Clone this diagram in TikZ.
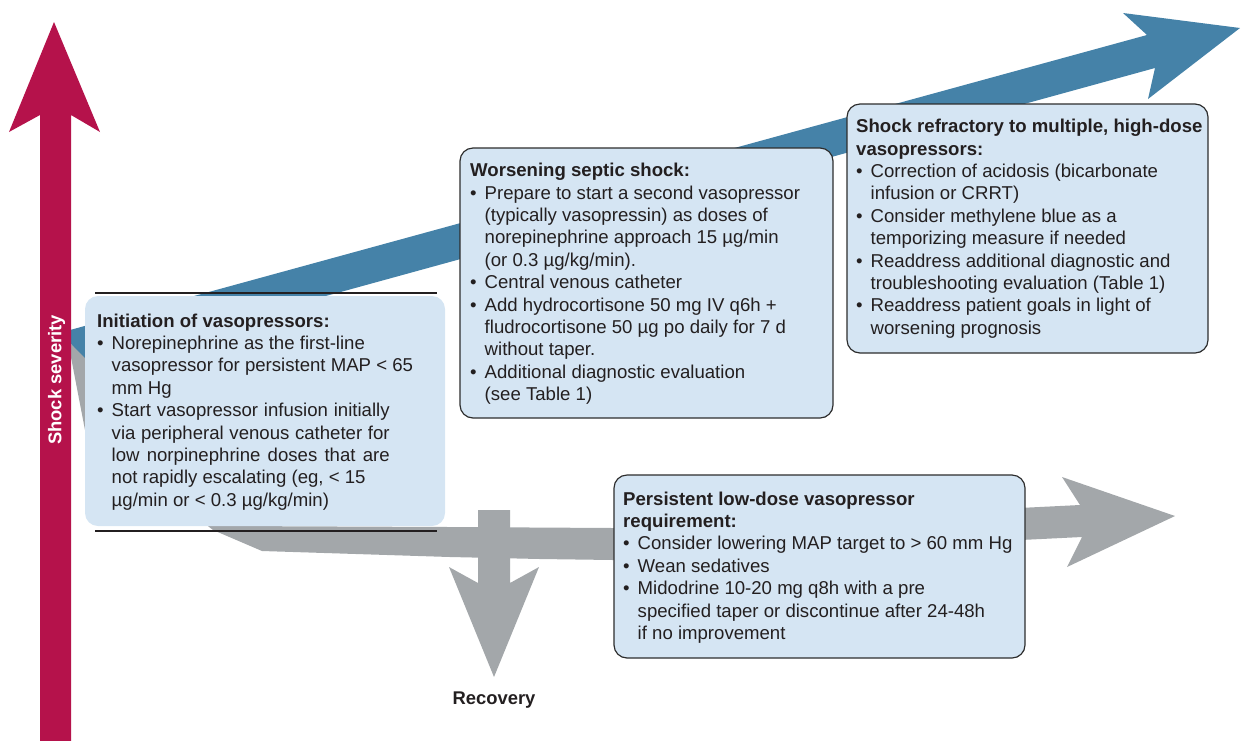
\documentclass[tikz,border=0pt]{standalone}
\usepackage{fontspec}
\setmainfont{Liberation Sans}
\definecolor{sred}{RGB}{181,18,75}
\definecolor{sblue}{RGB}{69,130,168}
\definecolor{sgray}{RGB}{163,167,170}
\definecolor{boxfill}{RGB}{213,229,243}
\definecolor{boxline}{RGB}{45,45,45}
\definecolor{txtc}{RGB}{35,31,32}
\newcommand\bu{\makebox[14.5pt][l]{•}}
\newcommand\ind{\hspace*{14.5pt}}
\begin{document}
\begin{tikzpicture}[x=1pt,y=-1pt,
  infobox/.style={rounded corners=13pt, fill=boxfill, draw=boxline, line width=1.2pt, inner sep=0pt},
  txtnode/.style={inner sep=0pt, anchor=base west, text=txtc, font=\fontsize{18.6}{22.4}\selectfont},
  hrule/.style={line width=1.8pt, draw=txtc}]
\useasboundingbox (0,0) rectangle (1241,740);

% blue (worsening) arrow
\fill[sblue] (70,330) -- (1147,35) -- (1123,13) -- (1240,28) -- (1148,99) -- (1155,68)
  -- (337,293) -- (85,360) -- (70,343) -- cycle;

% gray (improving) arrow
\fill[sgray] (70,343) -- (85,358) -- (230,526) -- (450,527) -- (613,528) -- (1080,505)
  -- (1062,477) -- (1175,516) -- (1067,567) -- (1082,537) -- (613,560) -- (540,559)
  -- (450,557) -- (262,551) -- (213,530) -- (85,430) -- (70,352) -- cycle;

% recovery arrow
\fill[sgray] (478,510) -- (510,510) -- (510,583) -- (539,567) -- (494,677) -- (449,567)
  -- (478,583) -- cycle;

% shock severity arrow
\fill[sred] (40,741) -- (40,115) -- (9,132) -- (54,22) -- (100,132) -- (71,115) -- (71,741) -- cycle;
\node[rotate=90, text=white, font=\fontsize{18.4}{20}\selectfont\bfseries, inner sep=0pt] (sev) at (56.5,380) {Shock severity};

% boxes
\node[infobox, draw=none, minimum width=360pt, minimum height=230pt] (b1) at (265,411) {};
\node[infobox, minimum width=373pt, minimum height=270pt] (b2) at (646.5,283) {};
\node[infobox, minimum width=361pt, minimum height=249pt] (b3) at (1027.5,228.5) {};
\node[infobox, minimum width=411pt, minimum height=183pt] (b4) at (819.5,566.5) {};

% rules around box 1
\draw[hrule] (95,293) -- (437,293);
\draw[hrule] (95,531) -- (437,531);

% texts
\node[txtnode] (t1) at (97,327) {\begin{tabular}[t]{@{}l@{}}
\textbf{Initiation of vasopressors:}\\
\bu Norepinephrine as the first-line\\
\ind vasopressor for persistent MAP < 65\\
\ind mm Hg\\
\bu \makebox[278pt][s]{Start vasopressor infusion initially}\\
\ind \makebox[278pt][s]{via peripheral venous catheter for}\\
\ind \makebox[278pt][s]{low norpinephrine doses that are}\\
\ind not rapidly escalating (eg, < 15\\
\ind µg/min or < 0.3 µg/kg/min)
\end{tabular}};

\node[txtnode] (t2) at (470,176.7) {\begin{tabular}[t]{@{}l@{}}
\textbf{Worsening septic shock:}\\
\bu Prepare to start a second vasopressor\\
\ind (typically vasopressin) as doses of\\
\ind norepinephrine approach 15 µg/min\\
\ind (or 0.3 µg/kg/min).\\
\bu Central venous catheter\\
\bu Add hydrocortisone 50 mg IV q6h +\\
\ind fludrocortisone 50 µg po daily for 7 d\\
\ind without taper.\\
\bu Additional diagnostic evaluation\\
\ind (see Table 1)
\end{tabular}};

\node[txtnode] (t3) at (856,132.7) {\begin{tabular}[t]{@{}l@{}}
\textbf{Shock refractory to multiple, high-dose}\\
\textbf{vasopressors:}\\
\bu Correction of acidosis (bicarbonate\\
\ind infusion or CRRT)\\
\bu Consider methylene blue as a\\
\ind temporizing measure if needed\\
\bu Readdress additional diagnostic and\\
\ind troubleshooting evaluation (Table 1)\\
\bu Readdress patient goals in light of\\
\ind worsening prognosis
\end{tabular}};

\node[txtnode] (t4) at (623,505) {\begin{tabular}[t]{@{}l@{}}
\textbf{Persistent low-dose vasopressor}\\
\textbf{requirement:}\\
\bu Consider lowering MAP target to > 60 mm Hg\\
\bu Wean sedatives\\
\bu Midodrine 10-20 mg q8h with a pre\\
\ind specified taper or discontinue after 24-48h\\
\ind if no improvement
\end{tabular}};

\node[txtnode, anchor=base, font=\fontsize{18.4}{20}\selectfont\bfseries] (rec) at (494,704) {Recovery};
\end{tikzpicture}
\end{document}
